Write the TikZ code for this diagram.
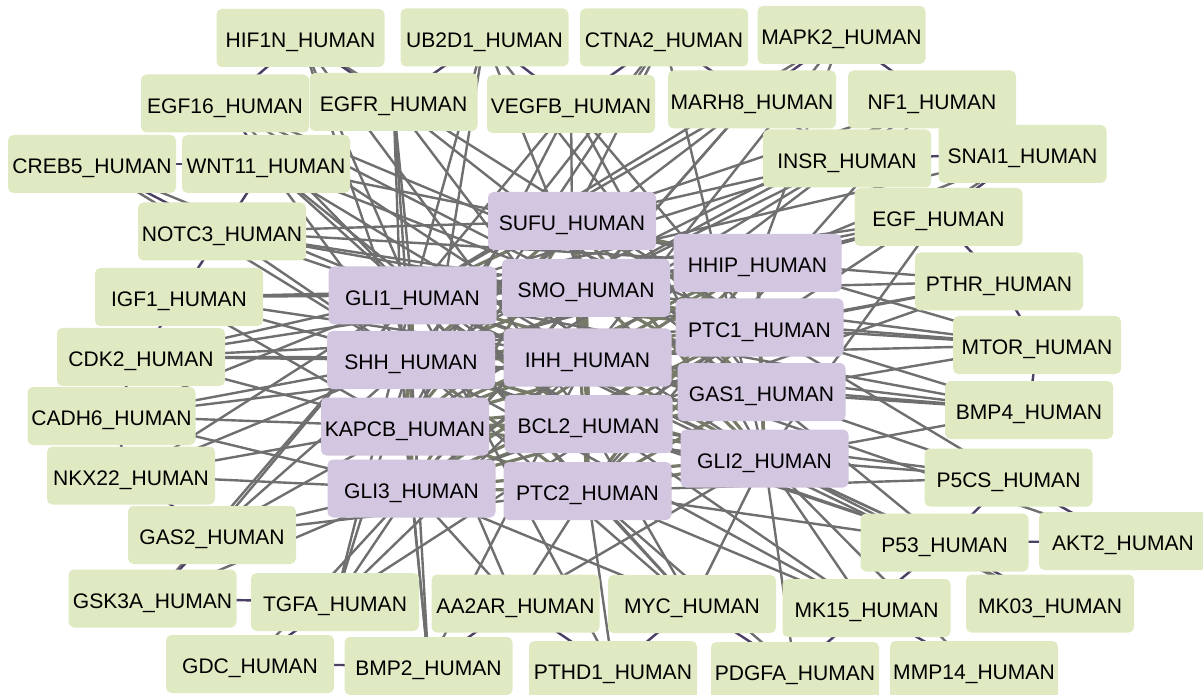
\documentclass[tikz,border=0pt]{standalone}
\usepackage{fontspec}
\setmainfont{Liberation Sans}
\pgfdeclarelayer{bg}
\pgfsetlayers{bg,main}
\definecolor{nodegreen}{HTML}{DFEAC2}
\definecolor{nodepurple}{HTML}{D3C6E1}
\definecolor{edgegray}{HTML}{6F6F6F}
\definecolor{edgecore}{HTML}{767A68}
\definecolor{edgedark}{HTML}{4B3F63}
\tikzset{
  prot/.style={rectangle, rounded corners=4pt, minimum width=126pt,
    minimum height=43.5pt, inner sep=0pt, text height=14.3pt, text depth=0pt,
    font=\fontsize{15.8}{18}\selectfont, text=black},
  outer/.style={prot, fill=nodegreen},
  core/.style={prot, fill=nodepurple},
  link/.style={draw=edgegray, line width=1.8pt},
  corelink/.style={draw=edgecore, line width=2.4pt},
  nblink/.style={draw=edgedark, line width=1.8pt},
}
\begin{document}
\begin{tikzpicture}[x=0.75pt, y=-0.75pt]
\useasboundingbox (0,0) rectangle (1203,695);

% outer ring of interaction partners
\node[outer] (hif1n) at (300.5,38)   {HIF1N\_HUMAN};
\node[outer] (ub2d1) at (484.5,37.5) {UB2D1\_HUMAN};
\node[outer] (ctna2) at (664,37.5)   {CTNA2\_HUMAN};
\node[outer] (mapk2) at (841.5,35)   {MAPK2\_HUMAN};
\node[outer] (egf16) at (225,103.5)  {EGF16\_HUMAN};
\node[outer] (egfr)  at (393.5,102)  {EGFR\_HUMAN};
\node[outer] (vegfb) at (571,104)    {VEGFB\_HUMAN};
\node[outer] (marh8) at (752,99.5)   {MARH8\_HUMAN};
\node[outer] (nf1)   at (932,99.5)   {NF1\_HUMAN};
\node[outer] (creb5) at (92,164)     {CREB5\_HUMAN};
\node[outer] (wnt11) at (266,164)    {WNT11\_HUMAN};
\node[outer] (insr)  at (847,158.5)  {INSR\_HUMAN};
\node[outer] (snai1) at (1022.5,154) {SNAI1\_HUMAN};
\node[outer] (notc3) at (222,231.5)  {NOTC3\_HUMAN};
\node[outer] (egf)   at (938.5,217)  {EGF\_HUMAN};
\node[outer] (pthr)  at (999,281.5)  {PTHR\_HUMAN};
\node[outer] (igf1)  at (179,297)    {IGF1\_HUMAN};
\node[outer] (mtor)  at (1037,345)   {MTOR\_HUMAN};
\node[outer] (cdk2)  at (141,357)    {CDK2\_HUMAN};
\node[outer] (bmp4)  at (1029,410)   {BMP4\_HUMAN};
\node[outer] (cadh6) at (111.5,416)  {CADH6\_HUMAN};
\node[outer] (nkx22) at (131,475.5)  {NKX22\_HUMAN};
\node[outer] (p5cs)  at (1008.5,477.5) {P5CS\_HUMAN};
\node[outer] (gas2)  at (212,535)    {GAS2\_HUMAN};
\node[outer] (p53)   at (944.5,542.5) {P53\_HUMAN};
\node[outer] (akt2)  at (1123,541)   {AKT2\_HUMAN};
\node[outer] (gsk3a) at (152.5,598.5) {GSK3A\_HUMAN};
\node[outer] (tgfa)  at (335,602)    {TGFA\_HUMAN};
\node[outer] (aa2ar) at (515.5,603.5) {AA2AR\_HUMAN};
\node[outer] (myc)   at (692,604)    {MYC\_HUMAN};
\node[outer] (mk15)  at (866.5,608)  {MK15\_HUMAN};
\node[outer] (mk03)  at (1050,603.5) {MK03\_HUMAN};
\node[outer] (gdc)   at (250,664)    {GDC\_HUMAN};
\node[outer] (bmp2)  at (428.5,666)  {BMP2\_HUMAN};
\node[outer] (pthd1) at (613,670)    {PTHD1\_HUMAN};
\node[outer] (pdgfa) at (795,671)    {PDGFA\_HUMAN};
\node[outer] (mmp14) at (974,670)    {MMP14\_HUMAN};

% hedgehog pathway core
\node[core] (sufu)  at (572,221)     {SUFU\_HUMAN};
\node[core] (hhip)  at (757.5,263)   {HHIP\_HUMAN};
\node[core] (gli1)  at (412.5,295.5) {GLI1\_HUMAN};
\node[core] (smo)   at (586,288)     {SMO\_HUMAN};
\node[core] (ptc1)  at (759.5,327.5) {PTC1\_HUMAN};
\node[core] (shh)   at (411,360)     {SHH\_HUMAN};
\node[core] (ihh)   at (587.5,357.5) {IHH\_HUMAN};
\node[core] (gas1)  at (761.5,392)   {GAS1\_HUMAN};
\node[core] (kapcb) at (405,426.5)   {KAPCB\_HUMAN};
\node[core] (bcl2)  at (588.5,424)   {BCL2\_HUMAN};
\node[core] (gli2)  at (764.5,458.5) {GLI2\_HUMAN};
\node[core] (gli3)  at (411.5,488.5) {GLI3\_HUMAN};
\node[core] (ptc2)  at (587.5,491)   {PTC2\_HUMAN};

\begin{pgfonlayer}{bg}
  % interactions among the core proteins
  \foreach \a [count=\i] in {sufu,hhip,gli1,smo,ptc1,shh,ihh,gas1,kapcb,bcl2,gli2,gli3,ptc2}{
    \foreach \b [count=\j] in {sufu,hhip,gli1,smo,ptc1,shh,ihh,gas1,kapcb,bcl2,gli2,gli3,ptc2}{
      \ifnum\j>\i \draw[corelink] (\a.center) -- (\b.center); \fi
    }
  }
  % interactions between outer partners and the core
  \foreach \a/\b in {
    hif1n/shh, hif1n/gli1, hif1n/ptc1, hif1n/bcl2,
    ub2d1/gli1, ub2d1/smo, ub2d1/gli3, ub2d1/gas1,
    ctna2/sufu, ctna2/shh, ctna2/gli2, ctna2/kapcb,
    mapk2/gli1, mapk2/hhip, mapk2/ihh,
    egf16/ptc1, egf16/smo, egf16/gli1, egf16/gli2,
    egfr/shh, egfr/ihh, egfr/gli1, egfr/kapcb, egfr/gas1,
    vegfb/sufu, vegfb/gli1, vegfb/ptc1, vegfb/kapcb, vegfb/gli2,
    marh8/gli1, marh8/smo, marh8/shh, marh8/gli3,
    nf1/sufu, nf1/smo, nf1/shh, nf1/ptc2,
    creb5/gli1, creb5/shh,
    wnt11/smo, wnt11/ihh, wnt11/gli1, wnt11/shh, wnt11/bcl2, wnt11/hhip,
    insr/gli1, insr/sufu, insr/smo, insr/kapcb, insr/gli3,
    snai1/gli1, snai1/hhip, snai1/ptc1,
    notc3/gli1, notc3/shh, notc3/smo, notc3/sufu, notc3/hhip, notc3/ptc1,
    egf/gli1, egf/smo, egf/shh, egf/hhip, egf/gli2,
    pthr/hhip, pthr/ptc1, pthr/gli1, pthr/ihh, pthr/gli3,
    igf1/gli1, igf1/shh, igf1/smo, igf1/ihh, igf1/kapcb,
    mtor/hhip, mtor/ptc1, mtor/gas1, mtor/gli1, mtor/shh, mtor/smo,
    cdk2/gli1, cdk2/shh, cdk2/kapcb, cdk2/ihh, cdk2/ptc1, cdk2/smo,
    bmp4/shh, bmp4/ihh, bmp4/gli1, bmp4/ptc1, bmp4/gas1, bmp4/gli2,
    cadh6/shh, cadh6/kapcb, cadh6/gli1, cadh6/gli3, cadh6/ihh,
    nkx22/shh, nkx22/gli1, nkx22/gli3, nkx22/kapcb,
    p5cs/gli2, p5cs/gas1, p5cs/ptc1, p5cs/bcl2, p5cs/ptc2,
    gas2/gli3, gas2/kapcb, gas2/shh, gas2/gli1, gas2/ptc2,
    p53/gli2, p53/gli1, p53/gas1, p53/bcl2, p53/shh, p53/ptc2,
    akt2/gli1,
    gsk3a/gli3, gsk3a/gli1,
    tgfa/gli3, tgfa/shh, tgfa/gli1, tgfa/ptc1, tgfa/ihh,
    aa2ar/gli3, aa2ar/shh, aa2ar/ptc2, aa2ar/gli2,
    myc/ptc2, myc/gli1, myc/shh, myc/gli2, myc/gli3, myc/bcl2,
    mk15/gli2, mk15/gli1, mk15/ptc2, mk15/shh,
    mk03/gli2, mk03/gli1,
    gdc/gli3,
    bmp2/shh, bmp2/gli3, bmp2/kapcb, bmp2/ihh,
    pthd1/ptc2, pthd1/gli1,
    pdgfa/gli2, pdgfa/ptc2,
    mmp14/gli2}
    \draw[link] (\a.center) -- (\b.center);
  % interactions between neighbouring outer partners
  \foreach \a/\b in {
    hif1n/egf16, hif1n/egfr, ub2d1/vegfb, ub2d1/egfr, ctna2/vegfb,
    ctna2/marh8, mapk2/marh8, mapk2/nf1, egf16/wnt11, creb5/wnt11,
    creb5/notc3, wnt11/notc3, notc3/igf1, igf1/cdk2, cdk2/cadh6,
    cadh6/nkx22, nkx22/gas2, gas2/gsk3a, gsk3a/tgfa, tgfa/gdc,
    gdc/bmp2, aa2ar/bmp2, aa2ar/pthd1, myc/pthd1, myc/pdgfa,
    mk15/pdgfa, mk15/mmp14, mk15/p53, p53/mk03, p53/akt2,
    p5cs/akt2, p5cs/p53, bmp4/mtor, mtor/pthr, pthr/egf,
    egf/snai1, insr/snai1, insr/nf1, marh8/insr}
    \draw[nblink] (\a.center) -- (\b.center);
\end{pgfonlayer}
\end{tikzpicture}
\end{document}
